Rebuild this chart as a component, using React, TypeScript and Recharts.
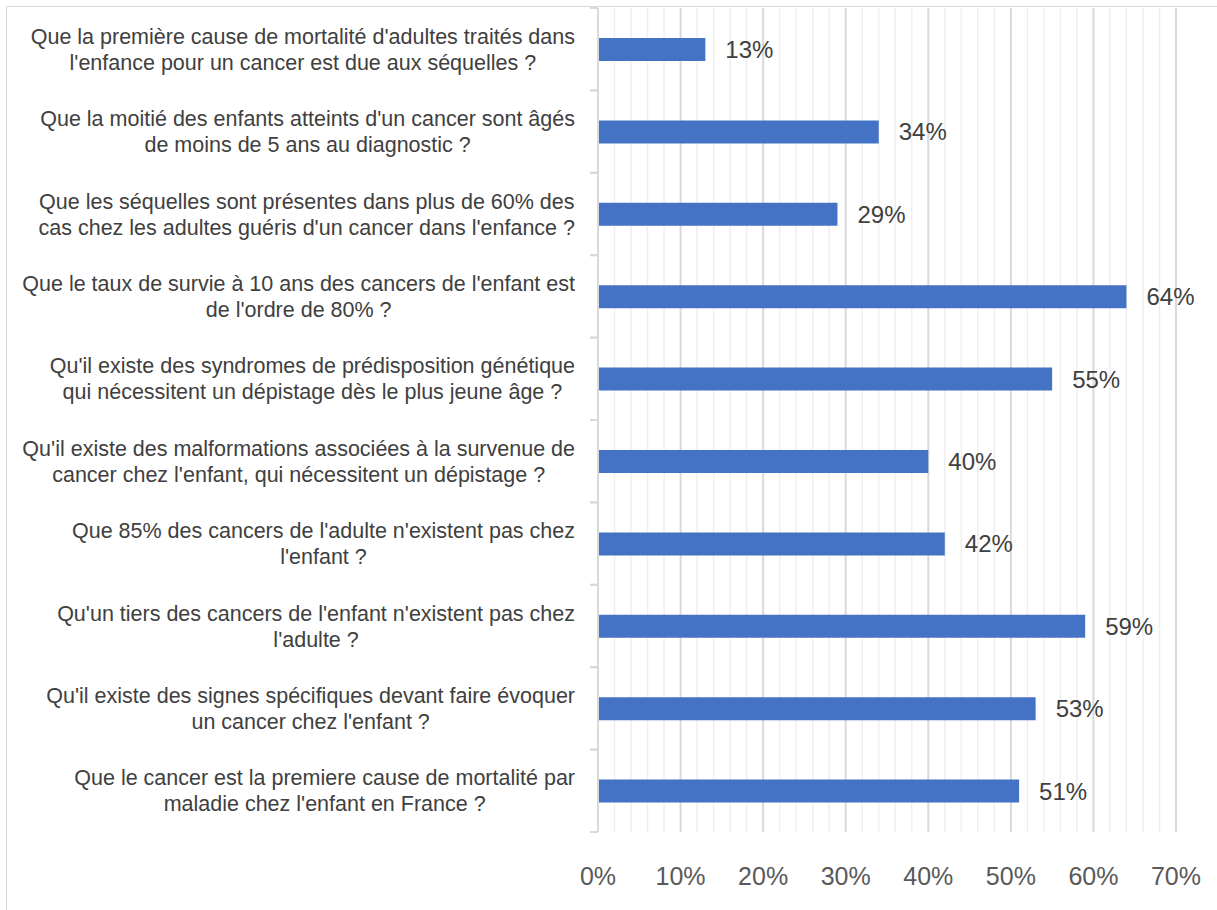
import React from 'react';
import { BarChart, Bar, XAxis, YAxis, CartesianGrid, LabelList } from 'recharts';

const questions = [
  "Que la première cause de mortalité d'adultes traités dans\nl'enfance pour un cancer est due aux séquelles ?",
  "Que la moitié des enfants atteints d'un cancer sont âgés\nde moins de 5 ans au diagnostic ?",
  "Que les séquelles sont présentes dans plus de 60% des\ncas chez les adultes guéris d'un cancer dans l'enfance ?",
  "Que le taux de survie à 10 ans des cancers de l'enfant est\nde l'ordre de 80% ?",
  "Qu'il existe des syndromes de prédisposition génétique\nqui nécessitent un dépistage dès le plus jeune âge ?",
  "Qu'il existe des malformations associées à la survenue de\ncancer chez l'enfant, qui nécessitent un dépistage ?",
  "Que 85% des cancers de l'adulte n'existent pas chez\nl'enfant ?",
  "Qu'un tiers des cancers de l'enfant n'existent pas chez\nl'adulte ?",
  "Qu'il existe des signes spécifiques devant faire évoquer\nun cancer chez l'enfant ?",
  "Que le cancer est la premiere cause de mortalité par\nmaladie chez l'enfant en France ?",
];

const percentages = [13, 34, 29, 64, 55, 40, 42, 59, 53, 51];

const X_MAX = 70;
const majorTicks = [0, 10, 20, 30, 40, 50, 60, 70];
const minorTicks = [
  2, 4, 6, 8, 12, 14, 16, 18, 22, 24, 26, 28, 32, 34, 36, 38,
  42, 44, 46, 48, 52, 54, 56, 58, 62, 64, 66, 68,
];

const data = questions.map((q, i) => ({ question: q, value: percentages[i] }));

const LABEL_FONT_SIZE = 21.5;
const LABEL_FONT = "'Liberation Sans', Arial, sans-serif";
const Y_TICK_SIZE = 8;
const Y_TICK_MARGIN = 15;

let measureCtx: CanvasRenderingContext2D | null = null;
function textWidth(s: string) {
  if (!measureCtx) {
    measureCtx = document.createElement('canvas').getContext('2d');
  }
  if (!measureCtx) return s.length * LABEL_FONT_SIZE * 0.5;
  measureCtx.font = `${LABEL_FONT_SIZE}px ${LABEL_FONT}`;
  return measureCtx.measureText(s).width;
}

// minor gridlines every 2%, placed with the axis scale when available
const minorGridX = ({ xAxis, offset }: any) => {
  const scale = xAxis && xAxis.scale;
  if (typeof scale === 'function') return minorTicks.map((v) => scale(v));
  if (scale && typeof scale.map === 'function') return minorTicks.map((v) => scale.map(v));
  return minorTicks.map((v) => offset.left + (v / X_MAX) * offset.width);
};

const QuestionTick = (props: any) => {
  const { x, y, payload } = props;
  const lines = String(payload.value).split('\n');
  const half = payload.offset || 41.2;
  const axisX = x + Y_TICK_SIZE + Y_TICK_MARGIN;
  const maxW = Math.max(...lines.map(textWidth));
  const cx = x - maxW / 2;
  const lineH = 26;
  const startY = y - ((lines.length - 1) * lineH) / 2;
  return (
    <g>
      <line x1={axisX - Y_TICK_SIZE} x2={axisX} y1={y - half} y2={y - half} stroke="#d9d9d9" strokeWidth={2} />
      <line x1={axisX - Y_TICK_SIZE} x2={axisX} y1={y + half} y2={y + half} stroke="#d9d9d9" strokeWidth={2} />
      {lines.map((line, i) => (
        <text
          key={i}
          x={cx}
          y={startY + i * lineH}
          dy="0.35em"
          textAnchor="middle"
          fill="#404040"
          fontSize={LABEL_FONT_SIZE}
          fontFamily={LABEL_FONT}
        >
          {line}
        </text>
      ))}
    </g>
  );
};

const PercentTick = (props: any) => {
  const { x, y, payload } = props;
  return (
    <text x={x} y={y} dy="0.71em" textAnchor="middle" fill="#595959" fontSize={25} fontFamily={LABEL_FONT}>
      {`${payload.value}%`}
    </text>
  );
};

const App: React.FC = () => {
  return (
    <div style={{ position: 'absolute', left: 0, top: 0, width: 1217, height: 910, overflow: 'hidden', background: '#fff' }}>
      <div
        style={{
          position: 'absolute',
          left: 6,
          top: 6,
          width: 1240,
          height: 940,
          border: '1.5px solid #d9d9d9',
        }}
      />
      <div style={{ position: 'absolute', left: 0, top: 0 }}>
        <BarChart
          width={1217}
          height={910}
          data={data}
          layout="vertical"
          margin={{ top: 8, right: 41, left: 0, bottom: 0 }}
        >
          <CartesianGrid
            horizontal={false}
            stroke="#efefef"
            strokeWidth={1.5}
            verticalCoordinatesGenerator={minorGridX}
          />
          <CartesianGrid horizontal={false} stroke="#d9d9d9" strokeWidth={2} />
          <XAxis
            type="number"
            domain={[0, X_MAX]}
            ticks={majorTicks}
            axisLine={false}
            tickLine={false}
            tickSize={8}
            tickMargin={27}
            height={78}
            tick={<PercentTick />}
            interval={0}
          />
          <YAxis
            type="category"
            dataKey="question"
            width={598}
            axisLine={{ stroke: '#d9d9d9', strokeWidth: 2 }}
            tickLine={false}
            tickSize={Y_TICK_SIZE}
            tickMargin={Y_TICK_MARGIN}
            tick={<QuestionTick />}
            interval={0}
          />
          <Bar dataKey="value" fill="#4472C4" barSize={23} isAnimationActive={false}>
            <LabelList
              dataKey="value"
              position="right"
              offset={20}
              formatter={(v: any) => `${v}%`}
              fill="#404040"
              fontSize={24}
              fontFamily={LABEL_FONT}
            />
          </Bar>
        </BarChart>
      </div>
    </div>
  );
};

export default App;
